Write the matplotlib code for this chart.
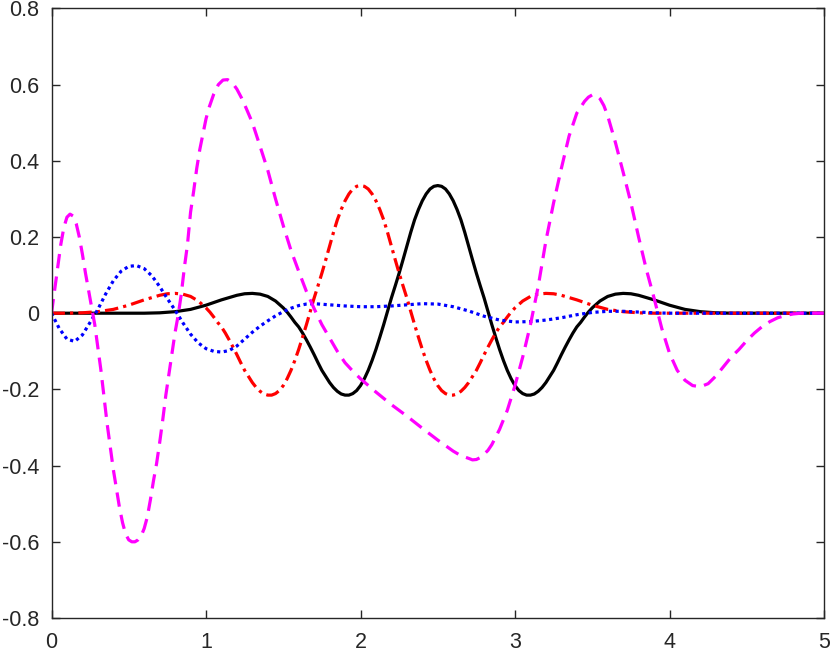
import matplotlib
matplotlib.use("Agg")
import matplotlib.pyplot as plt

# ---- data ----
magenta_x = [0.00, 0.02, 0.04, 0.06, 0.08, 0.10, 0.12, 0.14, 0.16, 0.18, 0.20, 0.22, 0.24, 0.26,
             0.28, 0.30, 0.32, 0.34, 0.36, 0.38, 0.40, 0.42, 0.44, 0.46, 0.48, 0.50, 0.52, 0.54,
             0.56, 0.58, 0.60, 0.62, 0.64, 0.66, 0.68, 0.70, 0.72, 0.74, 0.76, 0.78, 0.80, 0.82,
             0.84, 0.86, 0.88, 0.90, 0.92, 0.94, 0.96, 0.98, 1.00, 1.02, 1.05, 1.08, 1.11, 1.14,
             1.17, 1.20, 1.23, 1.26, 1.30, 1.35, 1.40, 1.45, 1.50, 1.55, 1.60, 1.65, 1.70, 1.75,
             1.80, 1.85, 1.90, 1.95, 2.00, 2.10, 2.20, 2.30, 2.40, 2.50, 2.60, 2.65, 2.70, 2.725,
             2.75, 2.775, 2.80, 2.825, 2.85, 2.90, 2.95, 3.00, 3.05, 3.10, 3.15, 3.20, 3.25, 3.30,
             3.35, 3.40, 3.45, 3.475, 3.50, 3.525, 3.55, 3.575, 3.60, 3.65, 3.70, 3.75, 3.80, 3.85,
             3.90, 3.95, 4.00, 4.05, 4.10, 4.15, 4.20, 4.25, 4.30, 4.35, 4.40, 4.45, 4.50, 4.55,
             4.60, 4.65, 4.70, 4.75, 4.80, 4.85, 5.00]
magenta_y = [0.000, 0.060, 0.120, 0.180, 0.225, 0.252, 0.260, 0.255, 0.235, 0.200, 0.155, 0.105,
             0.060, 0.015, -0.030, -0.090, -0.150, -0.220, -0.290, -0.350, -0.410, -0.460, -0.510,
             -0.550, -0.580, -0.595, -0.600, -0.600, -0.595, -0.585, -0.565, -0.535, -0.490, -0.440,
             -0.395, -0.340, -0.280, -0.215, -0.160, -0.105, -0.050, -0.005, 0.050, 0.120, 0.180,
             0.265, 0.320, 0.380, 0.430, 0.470, 0.510, 0.540, 0.575, 0.600, 0.612, 0.613, 0.605,
             0.588, 0.565, 0.538, 0.500, 0.438, 0.375, 0.300, 0.230, 0.165, 0.110, 0.057, 0.012,
             -0.030, -0.065, -0.100, -0.130, -0.152, -0.172, -0.207, -0.240, -0.270, -0.302, -0.333,
             -0.362, -0.374, -0.381, -0.385, -0.384, -0.379, -0.370, -0.360, -0.345, -0.305, -0.255,
             -0.190, -0.115, -0.030, 0.070, 0.190, 0.290, 0.380, 0.465, 0.525, 0.556, 0.567, 0.573,
             0.572, 0.563, 0.545, 0.518, 0.448, 0.370, 0.290, 0.200, 0.115, 0.040, -0.040, -0.105,
             -0.150, -0.176, -0.190, -0.193, -0.185, -0.165, -0.140, -0.115, -0.095, -0.072, -0.052,
             -0.035, -0.022, -0.012, -0.006, -0.002, 0.000, 0.000]

red_x = [0.00, 0.10, 0.20, 0.30, 0.40, 0.50, 0.60, 0.70, 0.75, 0.80, 0.85, 0.90, 0.95, 1.00,
         1.025, 1.05, 1.075, 1.10, 1.125, 1.15, 1.175, 1.20, 1.225, 1.25, 1.275, 1.30, 1.325,
         1.35, 1.375, 1.40, 1.425, 1.45, 1.475, 1.50, 1.525, 1.55, 1.575, 1.60, 1.625, 1.65,
         1.675, 1.70, 1.725, 1.75, 1.775, 1.80, 1.825, 1.85, 1.875, 1.90, 1.925, 1.95, 1.975,
         2.00, 2.025, 2.05, 2.075, 2.10, 2.125, 2.15, 2.175, 2.20, 2.225, 2.25, 2.275, 2.30,
         2.325, 2.35, 2.375, 2.40, 2.425, 2.45, 2.475, 2.50, 2.525, 2.55, 2.575, 2.60, 2.625,
         2.65, 2.675, 2.70, 2.725, 2.75, 2.775, 2.80, 2.825, 2.85, 2.875, 2.90, 2.925, 2.95,
         2.975, 3.00, 3.05, 3.10, 3.15, 3.20, 3.25, 3.30, 3.40, 3.50, 3.60, 3.70, 3.80, 3.90,
         5.00]
red_y = [0.000, 0.000, 0.001, 0.004, 0.010, 0.021, 0.035, 0.047, 0.051, 0.052, 0.050, 0.044,
         0.032, 0.014, 0.003, -0.010, -0.024, -0.036, -0.052, -0.070, -0.089, -0.109, -0.130,
         -0.150, -0.166, -0.182, -0.195, -0.205, -0.212, -0.215, -0.215, -0.211, -0.203, -0.190,
         -0.172, -0.150, -0.124, -0.095, -0.063, -0.030, 0.005, 0.040, 0.072, 0.105, 0.140,
         0.176, 0.212, 0.245, 0.272, 0.295, 0.313, 0.326, 0.333, 0.335, 0.333, 0.326, 0.313,
         0.295, 0.272, 0.245, 0.212, 0.176, 0.140, 0.105, 0.072, 0.040, 0.005, -0.030, -0.063,
         -0.095, -0.124, -0.150, -0.172, -0.190, -0.203, -0.211, -0.215, -0.215, -0.212, -0.205,
         -0.195, -0.182, -0.166, -0.150, -0.130, -0.109, -0.089, -0.070, -0.052, -0.036, -0.024,
         -0.010, 0.003, 0.014, 0.032, 0.044, 0.050, 0.052, 0.051, 0.047, 0.035, 0.021, 0.010,
         0.004, 0.001, 0.000, 0.000]

black_x = [0.00, 0.60, 0.70, 0.80, 0.90, 1.00, 1.10, 1.20, 1.25, 1.30, 1.35, 1.40, 1.45,
           1.50, 1.525, 1.55, 1.575, 1.60, 1.625, 1.65, 1.675, 1.70, 1.725, 1.75, 1.775, 1.80,
           1.825, 1.85, 1.875, 1.90, 1.925, 1.95, 1.975, 2.00, 2.025, 2.05, 2.075, 2.10, 2.125,
           2.15, 2.175, 2.20, 2.225, 2.25, 2.275, 2.30, 2.325, 2.35, 2.375, 2.40, 2.425, 2.45,
           2.475, 2.50, 2.525, 2.55, 2.575, 2.60, 2.625, 2.65, 2.675, 2.70, 2.725, 2.75, 2.775,
           2.80, 2.825, 2.85, 2.875, 2.90, 2.925, 2.95, 2.975, 3.00, 3.025, 3.05, 3.075, 3.10,
           3.125, 3.15, 3.175, 3.20, 3.225, 3.25, 3.275, 3.30, 3.325, 3.35, 3.375, 3.40, 3.425,
           3.45, 3.475, 3.50, 3.55, 3.60, 3.65, 3.70, 3.75, 3.80, 3.90, 4.00, 4.10, 4.20, 4.30,
           4.40, 5.00]
black_y = [0.000, 0.000, 0.001, 0.004, 0.010, 0.021, 0.035, 0.047, 0.051, 0.052, 0.050, 0.044,
           0.032, 0.014, 0.003, -0.010, -0.024, -0.036, -0.052, -0.070, -0.089, -0.109, -0.130,
           -0.150, -0.166, -0.182, -0.195, -0.205, -0.212, -0.215, -0.215, -0.211, -0.203, -0.190,
           -0.172, -0.150, -0.124, -0.095, -0.063, -0.030, 0.005, 0.040, 0.072, 0.105, 0.140,
           0.176, 0.212, 0.245, 0.272, 0.295, 0.313, 0.326, 0.333, 0.335, 0.333, 0.326, 0.313,
           0.295, 0.272, 0.245, 0.212, 0.176, 0.140, 0.105, 0.072, 0.040, 0.005, -0.030, -0.063,
           -0.095, -0.124, -0.150, -0.172, -0.190, -0.203, -0.211, -0.215, -0.215, -0.212, -0.205,
           -0.195, -0.182, -0.166, -0.150, -0.130, -0.109, -0.089, -0.070, -0.052, -0.036, -0.024,
           -0.010, 0.003, 0.014, 0.032, 0.044, 0.050, 0.052, 0.051, 0.047, 0.035, 0.021, 0.010,
           0.004, 0.001, 0.000, 0.000]

blue_x = [0.00, 0.05, 0.10, 0.15, 0.20, 0.25, 0.30, 0.35, 0.40, 0.45, 0.50, 0.55, 0.60, 0.65,
          0.70, 0.75, 0.80, 0.85, 0.90, 0.95, 1.00, 1.05, 1.10, 1.15, 1.20, 1.25, 1.30, 1.35,
          1.40, 1.45, 1.50, 1.55, 1.60, 1.65, 1.70, 1.80, 1.90, 2.00, 2.10, 2.20, 2.30, 2.40,
          2.50, 2.60, 2.70, 2.80, 2.90, 3.00, 3.10, 3.20, 3.30, 3.40, 3.50, 3.60, 3.70, 3.80,
          3.90, 4.00, 5.00]
blue_y = [0.000, -0.040, -0.068, -0.074, -0.057, -0.024, 0.010, 0.050, 0.085, 0.110, 0.123,
          0.125, 0.117, 0.098, 0.070, 0.038, 0.008, -0.025, -0.055, -0.078, -0.093, -0.100,
          -0.102, -0.098, -0.086, -0.068, -0.050, -0.034, -0.020, -0.007, 0.004, 0.013, 0.020,
          0.024, 0.025, 0.022, 0.019, 0.017, 0.017, 0.019, 0.022, 0.025, 0.024, 0.017, 0.006,
          -0.008, -0.018, -0.023, -0.022, -0.018, -0.012, -0.004, 0.002, 0.005, 0.005, 0.003,
          0.001, 0.000, 0.000]

x_ticks = [0, 1, 2, 3, 4, 5]
y_ticks = [-0.8, -0.6, -0.4, -0.2, 0, 0.2, 0.4, 0.6, 0.8]
y_tick_labels = ["-0.8", "-0.6", "-0.4", "-0.2", "0", "0.2", "0.4", "0.6", "0.8"]

# ---- figure ----
plt.rcParams['font.family'] = ['Liberation Sans', 'DejaVu Sans']
fig = plt.figure(figsize=(8.30, 6.53), dpi=100)
ax = fig.add_axes([51.5 / 830, 35 / 653, (824 - 51.5) / 830, (618.3 - 8.7) / 653])

lw = 2.3
ax.plot(black_x, black_y, color='black', lw=lw, solid_joinstyle='round')
ax.plot(red_x, red_y, color='#FF0000', lw=lw, dashes=(4.2, 1.6, 1.0, 1.6), dash_capstyle='butt')
ax.plot(blue_x, blue_y, color='#0000FF', lw=lw, dashes=(1.0, 1.1), dash_capstyle='butt')
ax.plot(magenta_x, magenta_y, color='#FF00FF', lw=lw, dashes=(4.5, 2.6), dash_capstyle='butt')

ax.set_xlim(0, 5)
ax.set_ylim(-0.8, 0.8)
ax.set_xticks(x_ticks)
ax.set_xticklabels([str(t) for t in x_ticks])
ax.set_yticks(y_ticks)
ax.set_yticklabels(y_tick_labels)

axcol = '#262626'
for s in ax.spines.values():
    s.set_color(axcol)
    s.set_linewidth(1.0)
ax.tick_params(direction='in', length=6, width=1.0, color=axcol, labelcolor=axcol,
               labelsize=15.5, top=True, right=True, pad=9)
ax.tick_params(axis='x', pad=10)

fig.savefig('out.png', dpi=100)
